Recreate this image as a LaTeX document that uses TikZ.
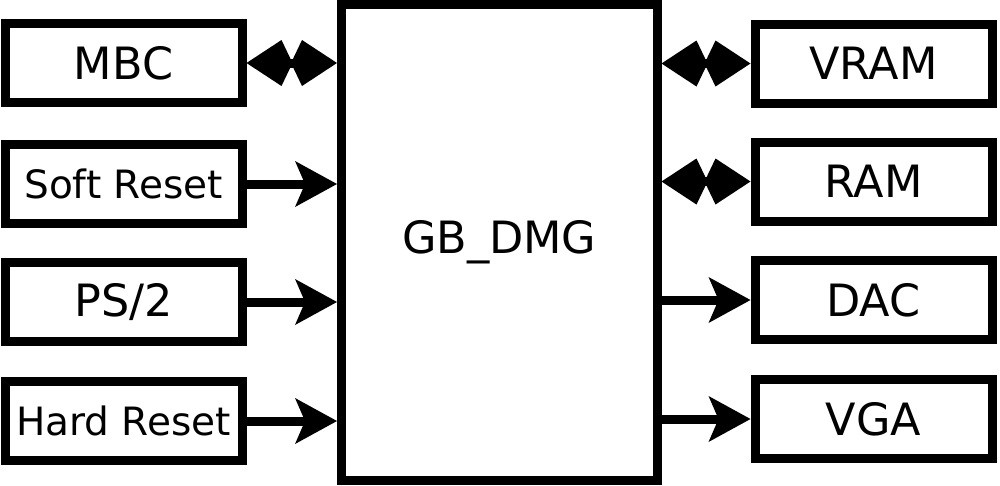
\documentclass[tikz,border=0pt]{standalone}
\usepackage{fontspec}
\setmainfont{DejaVu Sans}
\usetikzlibrary{arrows.meta}
\begin{document}
\begin{tikzpicture}[x=1pt,y=-1pt,
  blk/.style={draw=black, line width=9pt, minimum width=237pt, minimum height=79pt, inner sep=0pt, font=\fontsize{44.5}{50}\selectfont},
  sblk/.style={blk, font=\fontsize{39}{44}\selectfont},
  conn/.style={line width=9pt, -{Stealth[length=42pt,width=46pt,inset=10pt,line width=0pt]}},
  bhead/.style={Kite[length=46pt,width=46pt,inset=11pt,line width=0pt]},
  bconn/.style={line width=9pt, {Kite[length=46pt,width=46pt,inset=11pt,line width=0pt]}-{Kite[length=46pt,width=46pt,inset=11pt,line width=0pt]}, preaction={draw, line width=9pt, -, shorten <=30pt, shorten >=30pt}}]
\useasboundingbox[fill=white] (0,0) rectangle (1000,485);
\node[draw=black, line width=9pt, minimum width=315.5pt, minimum height=476pt, inner sep=0pt, font=\fontsize{44.5}{50}\selectfont] (core) at (499.25,242.5) {GB\_DMG};
\node[blk]  (mbc)  at (123.5,63)  {MBC};
\node[sblk] (soft) at (123.5,184) {Soft Reset};
\node[blk]  (ps2)  at (123.5,302) {PS/2};
\node[sblk] (hard) at (123.5,421) {Hard Reset};
\node[blk]  (vram) at (873.5,63.5) {VRAM};
\node[blk]  (ram)  at (873.5,181.5) {RAM};
\node[blk]  (dac)  at (873.5,300) {DAC};
\node[blk]  (vga)  at (873.5,419) {VGA};
\draw[bconn] (mbc.east) -- (mbc.east -| core.west);
\draw[conn] (soft.east) -- (soft.east -| core.west);
\draw[conn] (ps2.east) -- (ps2.east -| core.west);
\draw[conn] (hard.east) -- (hard.east -| core.west);
\draw[bconn] (vram.west -| core.east) -- (vram.west);
\draw[bconn] (ram.west -| core.east) -- (ram.west);
\draw[conn] (dac.west -| core.east) -- (dac.west);
\draw[conn] (vga.west -| core.east) -- (vga.west);
\end{tikzpicture}
\end{document}
